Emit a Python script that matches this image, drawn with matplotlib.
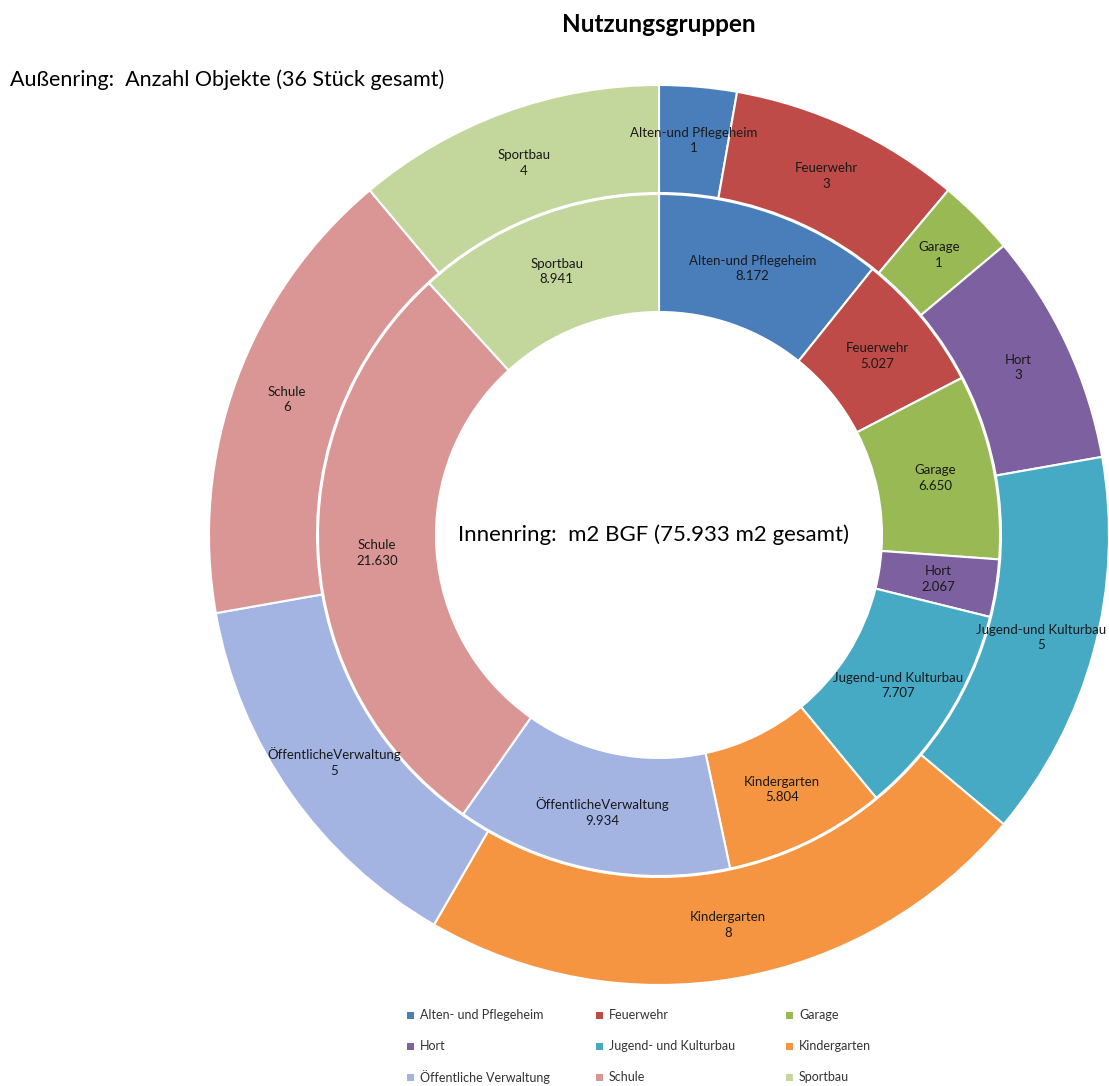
import matplotlib
matplotlib.use("Agg")
import matplotlib.pyplot as plt
from matplotlib.patches import Rectangle
import numpy as np

plt.rcParams["font.family"] = ["Lato", "DejaVu Sans"]

# -- Data ---------------------------------------------------------------------
categories = ["Alten-und Pflegeheim", "Feuerwehr", "Garage", "Hort",
              "Jugend-und Kulturbau", "Kindergarten",
              "ÖffentlicheVerwaltung", "Schule", "Sportbau"]
legend_labels = ["Alten- und Pflegeheim", "Feuerwehr", "Garage", "Hort",
                 "Jugend- und Kulturbau", "Kindergarten",
                 "Öffentliche Verwaltung", "Schule", "Sportbau"]
outer_counts = [1, 3, 1, 3, 5, 8, 5, 6, 4]
inner_area = [8172, 5027, 6650, 2067, 7707, 5804, 9934, 21630, 8941]
inner_labels = ["8.172", "5.027", "6.650", "2.067", "7.707",
                "5.804", "9.934", "21.630", "8.941"]

COLORS = ["#4A7EBB", "#BE4B48", "#98B954", "#7D60A0", "#46AAC5",
          "#F59542", "#A3B4E2", "#DA9695", "#C3D69B"]

W, H = 1109, 1086
fig = plt.figure(figsize=(W / 100, H / 100), dpi=100)
ax = fig.add_axes([0, 0, 1, 1])

cx, cy = 659, H - 535
R_out, R_mid, R_in = 450, 342, 223

outer, _ = ax.pie(outer_counts, colors=COLORS, radius=R_out, center=(cx, cy),
                  startangle=90, counterclock=False, frame=True,
                  wedgeprops=dict(width=R_out - R_mid, edgecolor="white",
                                  linewidth=1.5))
inner, _ = ax.pie(inner_area, colors=COLORS, radius=R_mid - 1, center=(cx, cy),
                  startangle=90, counterclock=False, frame=True,
                  wedgeprops=dict(width=R_mid - 1 - R_in, edgecolor="white",
                                  linewidth=1.5))
ax.set_xlim(0, W)
ax.set_ylim(0, H)
ax.set_aspect("equal")
ax.axis("off")


def put_labels(wedges, texts, r):
    for w, t in zip(wedges, texts):
        ang = np.deg2rad((w.theta1 + w.theta2) / 2)
        x = cx + r * np.cos(ang)
        y = cy + r * np.sin(ang)
        ax.text(x, y, t, ha="center", va="center", fontsize=9.5,
                color="#1a1a1a", linespacing=1.35)


put_labels(outer, [f"{c}\n{v}" for c, v in zip(categories, outer_counts)],
           (R_out + R_mid) / 2)
put_labels(inner, [f"{c}\n{v}" for c, v in zip(categories, inner_labels)],
           (R_mid + R_in) / 2)

# -- Titles -------------------------------------------------------------------
ax.text(659, H - 24, "Nutzungsgruppen", ha="center", va="center",
        fontsize=17.5, fontweight="bold", color="black")
ax.text(10, H - 80, "Außenring:  Anzahl Objekte (36 Stück gesamt)",
        ha="left", va="center", fontsize=15.5, color="black")
ax.text(653, H - 535, "Innenring:  m2 BGF (75.933 m2 gesamt)",
        ha="center", va="center", fontsize=16, color="black")

# -- Legend (row-major, 3 columns) -------------------------------------------
col_x = [410, 599, 789]
row_y = [1015, 1046, 1077]
for i, (lab, col) in enumerate(zip(legend_labels, COLORS)):
    x = col_x[i % 3]
    y = H - row_y[i // 3]
    ax.add_patch(Rectangle((x - 3.5, y - 3.5), 7, 7, facecolor=col,
                           edgecolor="none"))
    ax.text(x + 10, y, lab, ha="left", va="center", fontsize=9,
            color="#333333")

fig.savefig("out.png", dpi=100, facecolor="white")
